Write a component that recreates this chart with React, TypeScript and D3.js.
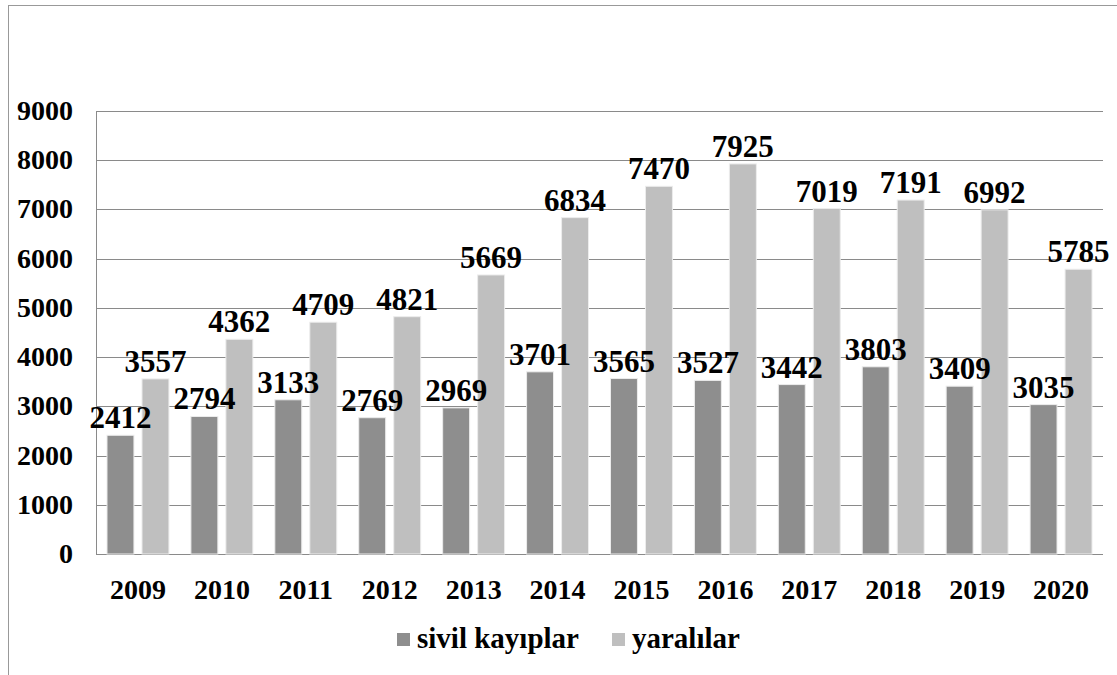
import * as d3 from "d3";
import React from "react";

const years = ["2009", "2010", "2011", "2012", "2013", "2014", "2015", "2016", "2017", "2018", "2019", "2020"];
const sivilKayiplar = [2412, 2794, 3133, 2769, 2969, 3701, 3565, 3527, 3442, 3803, 3409, 3035];
const yaralilar = [3557, 4362, 4709, 4821, 5669, 6834, 7470, 7925, 7019, 7191, 6992, 5785];
const seriesNames = ["sivil kayıplar", "yaralılar"];
const yTicks = [0, 1000, 2000, 3000, 4000, 5000, 6000, 7000, 8000, 9000];

const W = 1117;
const H = 675;
const margin = { left: 96, right: 14, top: 111, bottom: 121 };
const colors = ["#8e8e8e", "#bfbfbf"];
const FONT = "Liberation Serif";

export default function App() {
    const x = d3.scaleBand().domain(years).range([margin.left, W - margin.right]);
    const inner = d3.scaleBand().domain(seriesNames).range([0, x.bandwidth()])
        .paddingInner(0.23).paddingOuter(0.314);
    const y = d3.scaleLinear().domain([0, 9000]).range([H - margin.bottom, margin.top]);

    const series = [sivilKayiplar, yaralilar];

    return (
        <svg width={W} height={H} style={{ position: "absolute", left: 0, top: 0, background: "#fff" }}>
            <g fontFamily={FONT} fontWeight="bold" fill="#000">
                {/* outer chart border */}
                <line x1={8.5} x2={8.5} y1={5} y2={H} stroke="#999" />
                <line x1={8} x2={W} y1={5.5} y2={5.5} stroke="#999" />

                {/* gridlines */}
                {yTicks.map(t => (
                    <line key={t} x1={margin.left} x2={W - margin.right} y1={Math.round(y(t)) + 0.5} y2={Math.round(y(t)) + 0.5}
                        stroke="#8a8a8a" strokeWidth={1} />
                ))}
                <line x1={margin.left + 0.5} x2={margin.left + 0.5} y1={y(9000)} y2={y(0)} stroke="#8a8a8a" />

                {/* y tick labels */}
                {yTicks.map(t => (
                    <text key={t} x={73} y={y(t) + 9} textAnchor="end" fontSize={28}>{String(t)}</text>
                ))}

                {/* bars */}
                {series.map((vals, si) => vals.map((v, i) => (
                    <rect key={si + "-" + i}
                        x={x(years[i])! + inner(seriesNames[si])!}
                        y={y(v)}
                        width={inner.bandwidth()}
                        height={y(0) - y(v)}
                        fill={colors[si]} stroke="#ececec" strokeWidth={1} />
                )))}

                {/* data labels */}
                {series.map((vals, si) => vals.map((v, i) => (
                    <text key={"l" + si + "-" + i}
                        x={x(years[i])! + inner(seriesNames[si])! + inner.bandwidth() / 2}
                        y={y(v) - 7}
                        textAnchor="middle" fontSize={31}>{String(v)}</text>
                )))}

                {/* x labels */}
                {years.map(yr => (
                    <text key={yr} x={x(yr)! + x.bandwidth() / 2} y={599} textAnchor="middle" fontSize={28}>{yr}</text>
                ))}

                {/* legend */}
                <rect x={397} y={633} width={13} height={13} fill={colors[0]} />
                <text x={417} y={648} fontSize={29}>{seriesNames[0]}</text>
                <rect x={612} y={633} width={13} height={13} fill={colors[1]} />
                <text x={632} y={648} fontSize={29}>{seriesNames[1]}</text>
            </g>
        </svg>
    );
}
